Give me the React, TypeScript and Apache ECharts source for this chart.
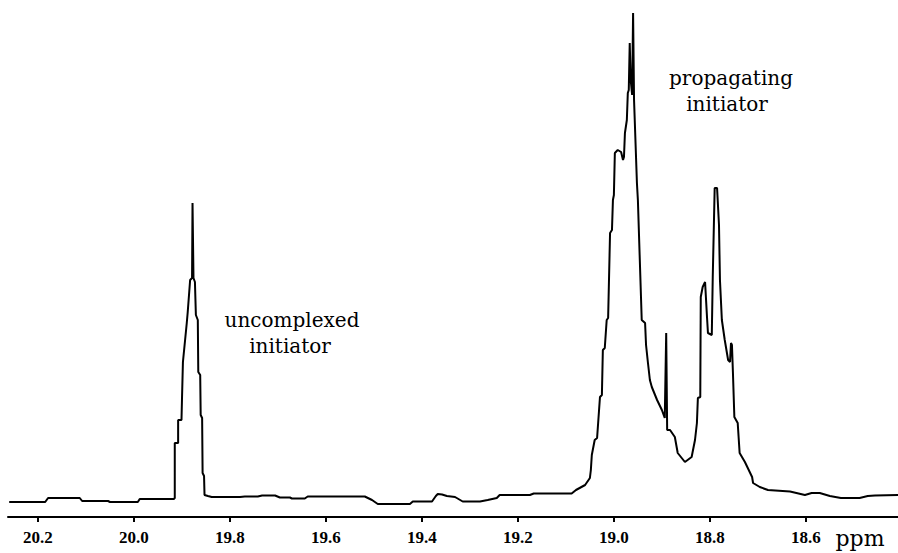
import React, { useEffect, useRef } from "react";
import * as echarts from "echarts";

// Chemical shift (ppm) and intensity (arbitrary units)
const ppm = [
  20.26, 20.185, 20.179, 20.113, 20.108, 20.054, 20.05, 19.992, 19.988, 19.917,
  19.915, 19.915, 19.908, 19.908, 19.901, 19.9, 19.898, 19.89, 19.888, 19.883,
  19.879, 19.878, 19.876, 19.873, 19.871, 19.867, 19.866, 19.862, 19.861, 19.858,
  19.857, 19.854, 19.853, 19.846, 19.838, 19.779, 19.769, 19.742, 19.733, 19.706,
  19.696, 19.675, 19.671, 19.644, 19.638, 19.519, 19.504, 19.492, 19.425, 19.419,
  19.379, 19.371, 19.367, 19.358, 19.348, 19.331, 19.315, 19.279, 19.263, 19.244,
  19.238, 19.175, 19.167, 19.088, 19.079, 19.06, 19.05, 19.048, 19.046, 19.04,
  19.035, 19.029, 19.025, 19.023, 19.019, 19.015, 19.012, 19.008, 19.004, 19.002,
  19.0, 18.998, 18.992, 18.985, 18.981, 18.979, 18.977, 18.973, 18.971, 18.969,
  18.967, 18.965, 18.962, 18.96, 18.958, 18.952, 18.95, 18.946, 18.942, 18.935,
  18.933, 18.929, 18.925, 18.921, 18.91, 18.9, 18.894, 18.891, 18.889, 18.883,
  18.873, 18.867, 18.852, 18.838, 18.831, 18.827, 18.825, 18.82, 18.819, 18.815,
  18.81, 18.806, 18.804, 18.796, 18.794, 18.79, 18.785, 18.781, 18.779, 18.775,
  18.769, 18.762, 18.758, 18.756, 18.754, 18.752, 18.749, 18.742, 18.738, 18.727,
  18.712, 18.71, 18.696, 18.679, 18.633, 18.602, 18.588, 18.571, 18.55, 18.527,
  18.488, 18.471, 18.456, 18.408,
];
const intensity = [
  3.0, 3.0, 3.8, 3.8, 3.2, 3.2, 3.0, 3.0, 3.6, 3.6,
  3.8, 14.8, 14.8, 19.4, 19.4, 23.4, 31.0, 38.8, 41.0, 47.4,
  47.8, 62.8, 47.8, 47.0, 40.4, 39.4, 29.0, 28.4, 20.4, 19.8,
  8.8, 8.2, 4.4, 4.2, 4.0, 4.0, 4.1, 4.1, 4.3, 4.3,
  3.9, 3.9, 3.7, 3.7, 4.1, 4.1, 3.4, 2.6, 2.6, 3.1,
  3.1, 4.2, 4.6, 4.5, 4.2, 4.0, 3.1, 3.1, 3.4, 3.8,
  4.4, 4.4, 4.7, 4.7, 5.4, 6.4, 7.8, 9.4, 12.4, 15.4,
  15.8, 24.0, 24.4, 33.4, 33.8, 39.4, 39.8, 56.8, 57.4, 63.4,
  64.4, 72.8, 73.4, 73.0, 71.4, 72.0, 76.8, 79.4, 84.8, 85.4,
  94.8, 87.4, 84.4, 100.8, 83.4, 66.8, 63.4, 51.4, 39.4, 38.8,
  34.4, 30.8, 27.4, 26.0, 23.4, 21.4, 19.8, 36.8, 17.4, 17.4,
  16.0, 12.8, 11.0, 12.0, 15.4, 18.8, 23.8, 24.0, 44.0, 46.0,
  47.0, 40.0, 36.8, 36.4, 48.0, 65.8, 65.8, 58.4, 47.4, 39.4,
  35.4, 31.4, 31.0, 34.8, 34.4, 29.0, 20.0, 18.8, 12.8, 11.0,
  8.0, 6.8, 6.0, 5.4, 5.1, 4.4, 4.8, 4.8, 4.2, 3.8,
  3.8, 4.2, 4.3, 4.4,
];
const tickValues = [20.2, 20.0, 19.8, 19.6, 19.4, 19.2, 19.0, 18.8, 18.6];
const axisUnit = "ppm";
const annotationLeft = ["uncomplexed", "initiator"];
const annotationRight = ["propagating", "initiator"];

export default function App() {
  const ref = useRef<HTMLDivElement>(null);
  useEffect(() => {
    if (!ref.current) return;
    const chart = echarts.init(ref.current, null, { renderer: "svg" });
    const textStyle = (t: string, x: number, y: number, size: number, family: string) => ({
      type: "text",
      x,
      y,
      style: {
        text: t,
        fill: "#000",
        font: `${size}px ${family}`,
        align: "center",
        verticalAlign: "middle",
      },
    });
    chart.setOption({
      animation: false,
      backgroundColor: "#fff",
      grid: { left: 8, right: 0, top: 7, bottom: 36, containLabel: false },
      xAxis: {
        type: "value",
        inverse: true,
        min: 18.408,
        max: 20.2625,
        axisLine: { show: true, lineStyle: { color: "#000", width: 2 } },
        axisTick: {
          show: true,
          length: 5,
          lineStyle: { color: "#000", width: 2 },
          customValues: tickValues,
        },
        axisLabel: {
          show: true,
          customValues: tickValues,
          formatter: (v: number) => v.toFixed(1),
          color: "#000",
          fontFamily: "Liberation Serif",
          fontWeight: "bold",
          fontSize: 17,
          margin: 12,
        },
        splitLine: { show: false },
      },
      yAxis: {
        type: "value",
        show: false,
        min: 0,
        max: 102,
        splitLine: { show: false },
      },
      series: [
        {
          type: "line",
          data: ppm.map((p, i) => [p, intensity[i]]),
          showSymbol: false,
          symbol: "none",
          lineStyle: { color: "#000", width: 2 },
        },
      ],
      graphic: [
        textStyle(annotationLeft[0], 292, 320, 20, "'DejaVu Serif'"),
        textStyle(annotationLeft[1], 290, 346, 20, "'DejaVu Serif'"),
        textStyle(annotationRight[0], 731, 78, 20, "'DejaVu Serif'"),
        textStyle(annotationRight[1], 727, 104, 20, "'DejaVu Serif'"),
        textStyle(axisUnit, 860, 538, 22, "'DejaVu Serif'"),
      ],
    });
    return () => chart.dispose();
  }, []);
  return (
    <div
      ref={ref}
      style={{ position: "absolute", left: 0, top: 0, width: 898, height: 553 }}
    />
  );
}
